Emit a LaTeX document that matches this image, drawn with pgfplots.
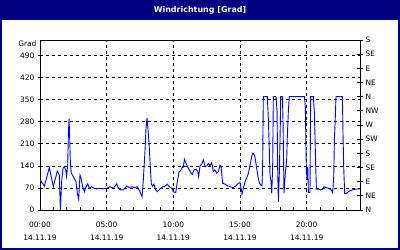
\documentclass[border=0pt]{standalone}
\usepackage{pgfplots}
\pgfplotsset{compat=1.18}
\usepackage{fontspec}
\setmainfont{DejaVu Sans}
\definecolor{navy}{RGB}{0,0,128}
\definecolor{wblue}{RGB}{0,0,255}
\pgfplotstableread{
h v
0.03 95
0.33 76
0.70 135
1.00 74
1.30 124
1.45 111
1.53 0
1.63 95
1.73 133
1.83 138
1.93 127
2.00 106
2.08 148
2.13 244
2.18 290
2.23 223
2.28 148
2.35 117
2.50 106
2.70 90
2.80 53
2.90 34
3.00 111
3.08 101
3.20 74
3.33 58
3.45 74
3.58 83
3.70 69
3.88 74
4.05 69
4.25 67
4.50 69
4.75 67
5.00 69
5.25 74
5.50 69
5.75 83
5.88 69
6.05 64
6.25 64
6.50 76
6.70 71
6.88 74
7.13 71
7.30 74
7.50 58
7.65 42
7.75 95
7.88 191
7.95 260
8.03 292
8.10 255
8.18 212
8.25 154
8.35 82
8.45 76
8.55 82
8.68 64
8.80 58
9.00 67
9.20 74
9.38 76
9.55 82
9.70 74
9.88 69
10.00 58
10.18 55
10.30 90
10.43 122
10.55 124
10.68 138
10.75 136
10.83 161
10.93 151
11.05 138
11.18 129
11.30 119
11.43 113
11.55 127
11.70 130
11.83 122
11.90 106
12.00 140
12.13 146
12.25 159
12.38 138
12.50 140
12.63 148
12.75 140
12.88 151
13.00 122
13.13 127
13.25 117
13.38 122
13.50 142
13.58 138
13.65 106
13.70 85
13.88 82
14.05 77
14.25 74
14.50 71
14.70 77
14.88 85
15.00 87
15.08 69
15.15 51
15.25 69
15.38 90
15.50 101
15.63 117
15.75 143
15.88 170
15.95 180
16.08 175
16.15 161
16.25 133
16.35 106
16.45 87
16.55 80
16.65 76
16.70 148
16.75 360
17.05 360
17.13 286
17.20 191
17.25 111
17.33 90
17.38 53
17.45 138
17.50 360
17.70 360
17.78 313
17.83 117
17.88 26
17.95 117
18.03 286
18.05 360
18.18 360
18.23 276
18.30 53
18.40 117
18.50 159
18.55 233
18.63 318
18.70 360
19.83 360
19.90 329
19.98 117
20.03 106
20.08 138
20.13 56
20.25 56
20.30 360
20.50 360
20.58 308
20.68 138
20.73 66
20.90 66
21.05 64
21.20 66
21.30 74
21.45 71
21.63 69
21.75 66
21.88 62
21.95 55
22.03 106
22.08 223
22.15 297
22.20 360
22.68 360
22.73 233
22.78 133
22.85 53
23.00 53
23.13 58
23.30 62
23.45 64
23.63 66
23.88 67
24.00 67
}\wind
\begin{document}
\begin{tikzpicture}[x=1bp,y=1bp]
\useasboundingbox (0,0) rectangle (400,250);
\fill[white] (0,0) rectangle (400,250);
\fill[navy] (0,230) rectangle (400,250);
\draw[navy, line width=2bp] (1,1) rectangle (399,249);
\node[text=white, font=\bfseries\fontsize{8}{9}\selectfont] at (200,240) {Windrichtung [Grad]};
\pgfplotsset{
  every tick label/.append style={font=\fontsize{7.5}{9}\selectfont},
}
\begin{axis}[
  at={(40bp,40bp)}, anchor=south west,
  scale only axis, width=320bp, height=170bp,
  xmin=0, xmax=24, ymin=0, ymax=540,
  /pgf/number format/assume math mode=true,
  xtick={0,5,10,15,20},
  xticklabels={{00:00\\[4bp]14.11.19},{05:00\\[4bp]14.11.19},{10:00\\[4bp]14.11.19},{15:00\\[4bp]14.11.19},{20:00\\[4bp]14.11.19}},
  xticklabel style={align=center, yshift=-8bp},
  minor xtick={1,2,3,4,6,7,8,9,11,12,13,14,16,17,18,19,21,22,23},
  xtick pos=bottom, ytick pos=left,
  x tick style={black, line width=0.8bp},
  xtick align=inside,
  major x tick style={draw=none},
  minor tick length=3bp,
  ytick={0,70,140,210,280,350,420,490},
  ytick align=outside,
  y tick style={black, line width=0.8bp},
  major tick length=2bp,
  extra y ticks={540},
  extra y tick labels={Grad},
  extra y tick style={grid=none, yticklabel style={yshift=-4bp}, major tick length=0pt},
  grid=major,
  major grid style={black, line width=0.8bp, dash pattern=on 3bp off 3bp},
  axis line style={black, line width=0.8bp},
  clip=false,
]
\addplot[wblue, line width=0.9bp] table[x=h, y=v] {\wind};
\end{axis}
\begin{axis}[
  at={(40bp,40bp)}, anchor=south west,
  scale only axis, width=320bp, height=170bp,
  xmin=0, xmax=24, ymin=0, ymax=540,
  axis x line=none, axis y line*=right,
  ytick={0,45,...,540},
  yticklabels={N,NE,E,SE,S,SW,W,NW,N,NE,E,SE,S},
  ytick align=center, major tick length=6bp,
  y tick style={black, line width=0.8bp},
  axis line style={black, line width=0.8bp},
  yticklabel style={xshift=-1bp},
]
\end{axis}
\end{tikzpicture}
\end{document}
